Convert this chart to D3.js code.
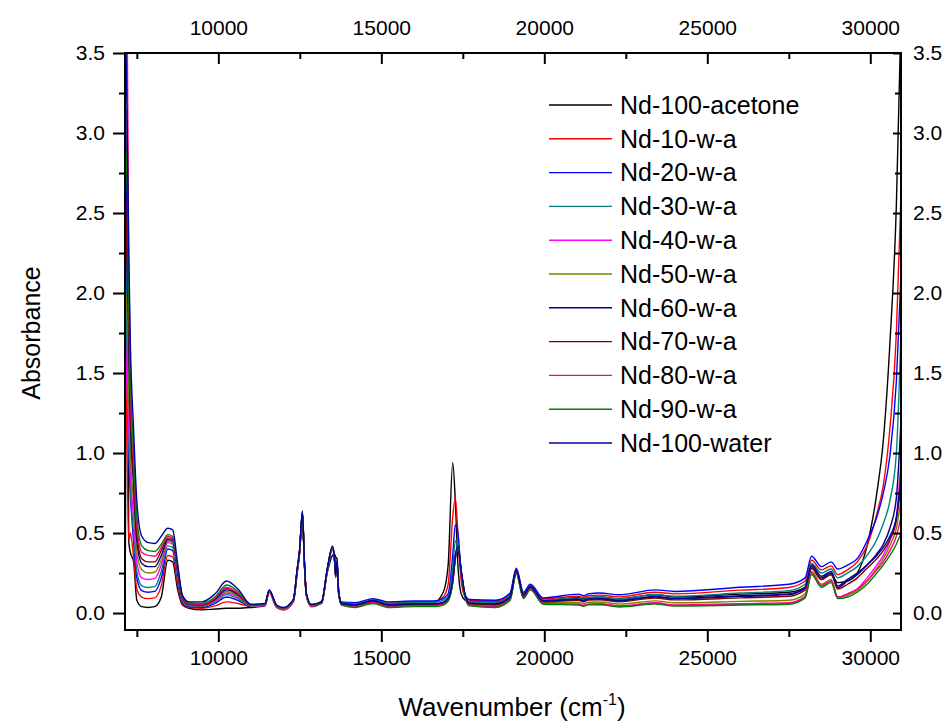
<!DOCTYPE html>
<html>
<head>
<meta charset="utf-8">
<script src="https://cdn.jsdelivr.net/npm/d3@7"></script>
<style>
  body { margin: 0; background: #fff; }
  svg text { font-family: "Liberation Sans", Arial, sans-serif; fill: #000; }
</style>
</head>
<body>
<svg id="chart" width="948" height="722"></svg>
<script>
// wavenumber grid (cm-1), shared by all spectra
const wavenumber = [7150, 7200, 7250, 7300, 7400, 7500, 7650, 7850, 8050, 8250,
  8450, 8600, 8750, 8900, 9100, 9500, 9900, 10250, 10600, 11000,
  11430, 11560, 11790, 12000, 12300, 12420, 12490, 12580, 12640, 12700,
  12850, 13170, 13340, 13500, 13560, 13600, 13640, 13690, 13780, 14200,
  14750, 15200, 16000, 16600, 16900, 17050, 17190, 17270, 17350, 17450,
  17570, 17700, 18500, 18950, 19140, 19360, 19570, 19970, 21050, 21200,
  21350, 21700, 22300, 23400, 24000, 26000, 27500, 28000, 28200, 28500,
  28800, 29000, 29300, 29600, 29900, 30200, 30400, 30600, 30800, 30940];

const ndAcetone = [0.40, 3.15, 0.45, 0.38, 0.32, 0.08, 0.04, 0.035, 0.04, 0.10,
  0.33, 0.32, 0.15, 0.05, 0.03, 0.02, 0.025, 0.03, 0.03, 0.035,
  0.045, 0.13, 0.035, 0.02, 0.07, 0.25, 0.37, 0.60, 0.31, 0.11,
  0.04, 0.065, 0.25, 0.36, 0.37, 0.35, 0.34, 0.15, 0.06, 0.055,
  0.08, 0.06, 0.065, 0.065, 0.13, 0.30, 0.94, 0.70, 0.30, 0.12,
  0.08, 0.07, 0.07, 0.11, 0.26, 0.12, 0.165, 0.08, 0.096, 0.088,
  0.098, 0.10, 0.089, 0.114, 0.102, 0.118, 0.13, 0.16, 0.28, 0.21,
  0.24, 0.19, 0.20, 0.25, 0.42, 0.75, 1.08, 1.68, 2.55, 3.70];

const nd10 = [1.60, 1.00, 0.45, 0.50, 0.35, 0.15, 0.10, 0.09, 0.095, 0.17,
  0.36, 0.35, 0.18, 0.06, 0.035, 0.03, 0.045, 0.07, 0.06, 0.04,
  0.05, 0.135, 0.04, 0.025, 0.075, 0.26, 0.37, 0.61, 0.31, 0.115,
  0.045, 0.07, 0.26, 0.40, 0.35, 0.24, 0.32, 0.13, 0.065, 0.06,
  0.085, 0.065, 0.07, 0.07, 0.10, 0.18, 0.60, 0.72, 0.50, 0.20,
  0.10, 0.08, 0.075, 0.12, 0.27, 0.125, 0.175, 0.09, 0.105, 0.097,
  0.108, 0.112, 0.101, 0.13, 0.12, 0.143, 0.16, 0.20, 0.33, 0.27,
  0.295, 0.24, 0.27, 0.32, 0.42, 0.62, 0.80, 1.15, 1.75, 2.60];

const nd20 = [3.10, 1.80, 1.00, 0.75, 0.45, 0.22, 0.14, 0.13, 0.135, 0.22,
  0.40, 0.39, 0.21, 0.07, 0.04, 0.035, 0.06, 0.10, 0.08, 0.04,
  0.055, 0.14, 0.045, 0.03, 0.08, 0.27, 0.38, 0.62, 0.32, 0.12,
  0.05, 0.075, 0.27, 0.41, 0.35, 0.24, 0.32, 0.13, 0.07, 0.065,
  0.09, 0.07, 0.075, 0.075, 0.09, 0.12, 0.36, 0.55, 0.50, 0.25,
  0.11, 0.085, 0.08, 0.125, 0.28, 0.13, 0.18, 0.095, 0.118, 0.108,
  0.12, 0.125, 0.114, 0.145, 0.135, 0.161, 0.18, 0.22, 0.355, 0.29,
  0.32, 0.275, 0.30, 0.34, 0.45, 0.60, 0.75, 0.98, 1.45, 2.10];

const nd30 = [2.30, 1.60, 1.10, 0.80, 0.50, 0.26, 0.17, 0.16, 0.165, 0.26,
  0.42, 0.41, 0.22, 0.075, 0.045, 0.04, 0.07, 0.115, 0.09, 0.042,
  0.05, 0.135, 0.042, 0.028, 0.078, 0.265, 0.375, 0.62, 0.315, 0.118,
  0.048, 0.07, 0.265, 0.405, 0.345, 0.23, 0.315, 0.13, 0.065, 0.058,
  0.082, 0.06, 0.065, 0.065, 0.08, 0.10, 0.28, 0.45, 0.44, 0.25,
  0.10, 0.07, 0.065, 0.11, 0.27, 0.115, 0.17, 0.08, 0.093, 0.085,
  0.096, 0.10, 0.088, 0.116, 0.105, 0.125, 0.14, 0.18, 0.31, 0.25,
  0.275, 0.22, 0.25, 0.29, 0.36, 0.46, 0.56, 0.70, 1.00, 1.75];

const nd40 = [1.70, 1.40, 1.20, 0.90, 0.60, 0.32, 0.22, 0.21, 0.215, 0.30,
  0.44, 0.43, 0.24, 0.08, 0.05, 0.045, 0.075, 0.125, 0.10, 0.045,
  0.045, 0.13, 0.035, 0.02, 0.07, 0.26, 0.37, 0.61, 0.31, 0.11,
  0.04, 0.06, 0.26, 0.40, 0.34, 0.22, 0.31, 0.12, 0.05, 0.04,
  0.065, 0.04, 0.045, 0.045, 0.055, 0.08, 0.19, 0.34, 0.40, 0.25,
  0.10, 0.05, 0.04, 0.085, 0.25, 0.095, 0.15, 0.06, 0.055, 0.047,
  0.056, 0.057, 0.043, 0.061, 0.048, 0.055, 0.06, 0.10, 0.25, 0.17,
  0.20, 0.10, 0.12, 0.15, 0.22, 0.30, 0.36, 0.45, 0.60, 0.95];

const nd50 = [2.00, 1.90, 1.40, 1.00, 0.70, 0.38, 0.27, 0.25, 0.255, 0.33,
  0.45, 0.44, 0.25, 0.085, 0.05, 0.045, 0.08, 0.135, 0.105, 0.045,
  0.05, 0.135, 0.04, 0.025, 0.075, 0.265, 0.375, 0.62, 0.315, 0.115,
  0.045, 0.065, 0.265, 0.405, 0.345, 0.225, 0.315, 0.125, 0.055, 0.045,
  0.07, 0.045, 0.05, 0.05, 0.06, 0.085, 0.20, 0.35, 0.41, 0.26,
  0.105, 0.055, 0.048, 0.09, 0.255, 0.10, 0.155, 0.065, 0.066, 0.059,
  0.067, 0.069, 0.056, 0.076, 0.064, 0.073, 0.08, 0.12, 0.26, 0.18,
  0.21, 0.095, 0.11, 0.14, 0.20, 0.28, 0.34, 0.42, 0.53, 0.70];

const nd60 = [2.20, 2.50, 1.70, 1.20, 0.80, 0.45, 0.31, 0.29, 0.29, 0.36,
  0.46, 0.45, 0.26, 0.09, 0.055, 0.05, 0.085, 0.145, 0.115, 0.048,
  0.055, 0.14, 0.045, 0.03, 0.08, 0.27, 0.38, 0.63, 0.32, 0.12,
  0.05, 0.07, 0.27, 0.41, 0.35, 0.23, 0.32, 0.13, 0.06, 0.05,
  0.075, 0.05, 0.055, 0.055, 0.065, 0.09, 0.20, 0.35, 0.41, 0.26,
  0.11, 0.06, 0.055, 0.10, 0.265, 0.11, 0.165, 0.075, 0.085, 0.077,
  0.087, 0.089, 0.077, 0.10, 0.089, 0.104, 0.115, 0.155, 0.29, 0.22,
  0.25, 0.16, 0.20, 0.24, 0.30, 0.37, 0.43, 0.53, 0.72, 1.20];

const nd70 = [2.60, 2.20, 1.80, 1.30, 0.85, 0.50, 0.34, 0.32, 0.32, 0.39,
  0.47, 0.46, 0.27, 0.095, 0.055, 0.05, 0.09, 0.155, 0.12, 0.05,
  0.055, 0.14, 0.045, 0.03, 0.08, 0.27, 0.38, 0.63, 0.32, 0.12,
  0.05, 0.068, 0.27, 0.41, 0.35, 0.23, 0.32, 0.13, 0.058, 0.048,
  0.072, 0.048, 0.052, 0.052, 0.062, 0.088, 0.20, 0.35, 0.41, 0.26,
  0.11, 0.058, 0.052, 0.095, 0.26, 0.105, 0.16, 0.07, 0.079, 0.071,
  0.081, 0.083, 0.071, 0.094, 0.082, 0.095, 0.105, 0.145, 0.28, 0.21,
  0.24, 0.15, 0.18, 0.22, 0.28, 0.34, 0.39, 0.46, 0.58, 0.80];

const nd80 = [3.80, 3.80, 2.20, 1.45, 0.95, 0.55, 0.38, 0.36, 0.355, 0.41,
  0.48, 0.47, 0.28, 0.10, 0.06, 0.055, 0.095, 0.16, 0.125, 0.05,
  0.05, 0.135, 0.04, 0.025, 0.075, 0.265, 0.375, 0.62, 0.315, 0.115,
  0.045, 0.062, 0.265, 0.405, 0.345, 0.225, 0.315, 0.125, 0.052, 0.04,
  0.065, 0.04, 0.045, 0.045, 0.055, 0.08, 0.19, 0.34, 0.405, 0.26,
  0.10, 0.05, 0.04, 0.085, 0.25, 0.095, 0.15, 0.06, 0.055, 0.048,
  0.056, 0.058, 0.044, 0.064, 0.051, 0.059, 0.065, 0.105, 0.25, 0.17,
  0.20, 0.10, 0.12, 0.15, 0.20, 0.27, 0.32, 0.39, 0.48, 0.60];

const nd90 = [2.60, 2.90, 2.00, 1.50, 1.00, 0.60, 0.42, 0.39, 0.385, 0.43,
  0.49, 0.48, 0.29, 0.105, 0.065, 0.06, 0.10, 0.175, 0.135, 0.052,
  0.055, 0.14, 0.045, 0.03, 0.08, 0.27, 0.38, 0.62, 0.315, 0.115,
  0.045, 0.062, 0.265, 0.405, 0.345, 0.225, 0.315, 0.125, 0.05, 0.035,
  0.06, 0.035, 0.04, 0.04, 0.05, 0.075, 0.19, 0.34, 0.41, 0.26,
  0.10, 0.045, 0.035, 0.08, 0.245, 0.09, 0.145, 0.055, 0.05, 0.042,
  0.051, 0.052, 0.038, 0.056, 0.043, 0.05, 0.055, 0.095, 0.24, 0.16,
  0.19, 0.09, 0.10, 0.13, 0.18, 0.25, 0.30, 0.36, 0.43, 0.50];

const ndWater = [3.80, 3.10, 2.30, 1.70, 1.15, 0.70, 0.48, 0.44, 0.435, 0.48,
  0.53, 0.52, 0.31, 0.11, 0.07, 0.07, 0.12, 0.20, 0.15, 0.055,
  0.06, 0.145, 0.05, 0.035, 0.085, 0.28, 0.39, 0.64, 0.325, 0.125,
  0.055, 0.07, 0.275, 0.42, 0.355, 0.235, 0.325, 0.135, 0.06, 0.052,
  0.078, 0.052, 0.058, 0.058, 0.068, 0.092, 0.21, 0.36, 0.42, 0.27,
  0.115, 0.062, 0.058, 0.10, 0.27, 0.11, 0.165, 0.075, 0.086, 0.078,
  0.088, 0.09, 0.079, 0.104, 0.092, 0.108, 0.12, 0.16, 0.30, 0.23,
  0.26, 0.17, 0.21, 0.25, 0.30, 0.36, 0.41, 0.48, 0.60, 0.85];

const seriesNames  = ["Nd-100-acetone", "Nd-10-w-a", "Nd-20-w-a", "Nd-30-w-a", "Nd-40-w-a", "Nd-50-w-a",
                      "Nd-60-w-a", "Nd-70-w-a", "Nd-80-w-a", "Nd-90-w-a", "Nd-100-water"];
const seriesValues = [ndAcetone, nd10, nd20, nd30, nd40, nd50, nd60, nd70, nd80, nd90, ndWater];
const seriesColors = ["#000000", "#ff0000", "#0000ff", "#008080", "#ff00ff", "#808000",
                      "#000080", "#800000", "#ff0080", "#008000", "#0000a0"];

const xTicks      = [10000, 15000, 20000, 25000, 30000];
const xMinorTicks = [7500, 12500, 17500, 22500, 27500];
const yTicks      = [0, 0.5, 1.0, 1.5, 2.0, 2.5, 3.0, 3.5];
const yMinorTicks = [0.25, 0.75, 1.25, 1.75, 2.25, 2.75, 3.25];

const main = function() {
  drawChart();
}();

function drawChart() {
  const left = 125, right = 901, top = 53, bottom = 630;
  const svg = d3.select("#chart");

  const x = d3.scaleLinear().domain([7137, 30942]).range([left, right]);
  const y = d3.scaleLinear().domain([-0.106, 3.5]).range([bottom, top]);

  svg.append("defs").append("clipPath").attr("id", "plotClip")
    .append("rect")
      .attr("x", left).attr("y", top)
      .attr("width", right - left).attr("height", bottom - top);

  //spectra
  const line = d3.line()
    .x((d, i) => x(wavenumber[i]))
    .y(d => y(d))
    .curve(d3.curveMonotoneX);

  svg.append("g")
    .attr("clip-path", "url(#plotClip)")
    .selectAll("path")
    .data(seriesValues)
    .join("path")
      .attr("d", d => line(d))
      .attr("fill", "none")
      .attr("stroke", (d, i) => seriesColors[i])
      .attr("stroke-width", 1.4);

  //axes: bottom & left ticks outward, top & right inward
  const fmtX = d3.format("d");
  const fmtY = d3.format(".1f");
  const axes = [
    { gen: d3.axisBottom(x).tickValues(xTicks).tickSize(12).tickPadding(8).tickFormat(fmtX), at: [0, bottom], font: 21 },
    { gen: d3.axisBottom(x).tickValues(xMinorTicks).tickSize(7).tickFormat(""), at: [0, bottom] },
    { gen: d3.axisTop(x).tickValues(xTicks).tickSize(-11).tickPadding(18).tickFormat(fmtX), at: [0, top], font: 21 },
    { gen: d3.axisTop(x).tickValues(xMinorTicks).tickSize(-6).tickFormat(""), at: [0, top] },
    { gen: d3.axisLeft(y).tickValues(yTicks).tickSize(12).tickPadding(8).tickFormat(fmtY), at: [left, 0], font: 21 },
    { gen: d3.axisLeft(y).tickValues(yMinorTicks).tickSize(6).tickFormat(""), at: [left, 0] },
    { gen: d3.axisRight(y).tickValues(yTicks).tickSize(-8).tickPadding(12).tickFormat(fmtY), at: [right, 0], font: 21 },
    { gen: d3.axisRight(y).tickValues(yMinorTicks).tickSize(-6).tickFormat(""), at: [right, 0] }
  ];
  axes.forEach(a => {
    const g = svg.append("g")
      .attr("transform", `translate(${a.at[0]},${a.at[1]})`)
      .call(a.gen);
    g.select(".domain").remove();
    g.selectAll("line").attr("stroke", "#000").attr("stroke-width", 2);
    g.selectAll("text")
      .attr("font-size", a.font || 0)
      .attr("font-family", "Liberation Sans, Arial, sans-serif")
      .attr("fill", "#000");
  });

  svg.append("rect")
    .attr("x", left).attr("y", top)
    .attr("width", right - left).attr("height", bottom - top)
    .attr("fill", "none")
    .attr("stroke", "#000")
    .attr("stroke-width", 2);

  //axis titles
  svg.append("text")
    .attr("transform", "translate(40,333) rotate(-90)")
    .attr("text-anchor", "middle")
    .attr("font-size", 25)
    .text("Absorbance");

  const xTitle = svg.append("text")
    .attr("x", 512).attr("y", 716)
    .attr("text-anchor", "middle")
    .attr("font-size", 26);
  xTitle.append("tspan").text("Wavenumber (cm");
  xTitle.append("tspan").attr("font-size", 16).attr("dy", -11).text("-1");
  xTitle.append("tspan").attr("dy", 11).text(")");

  //legend
  const legend = svg.append("g")
    .selectAll("g")
    .data(seriesNames)
    .join("g")
      .attr("transform", (d, i) => `translate(549,${105 + i * 33.8})`);
  legend.append("line")
    .attr("x1", 0).attr("x2", 63)
    .attr("stroke", (d, i) => seriesColors[i])
    .attr("stroke-width", 1.4);
  legend.append("text")
    .attr("x", 71).attr("dy", "0.35em")
    .attr("font-size", 25)
    .text(d => d);
}
</script>
</body>
</html>
